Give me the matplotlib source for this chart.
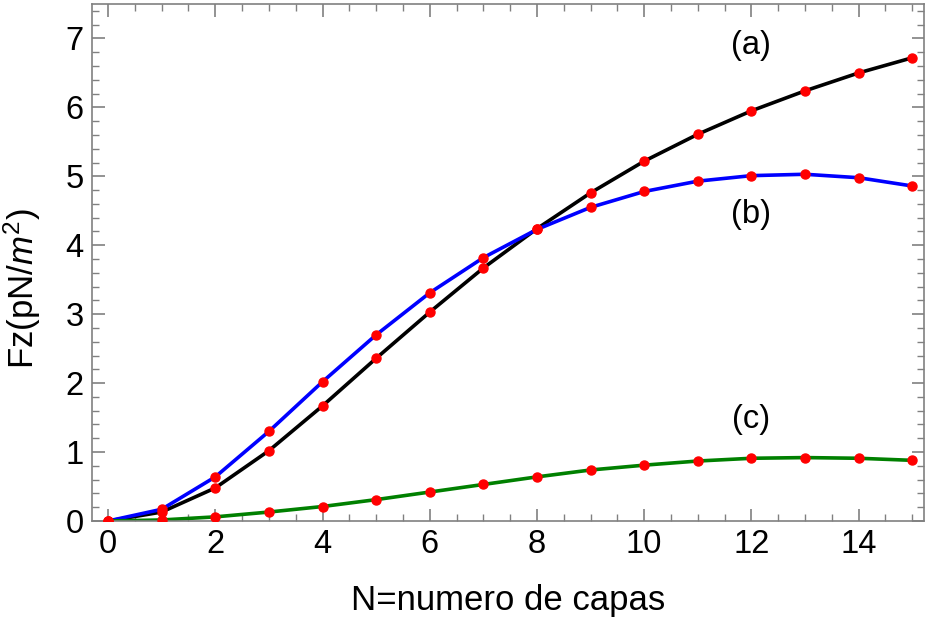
import numpy as np
import matplotlib
matplotlib.use("Agg")
import matplotlib.pyplot as plt
from matplotlib.ticker import MultipleLocator

plt.rcParams['font.family'] = ['Liberation Sans', 'DejaVu Sans']
plt.rcParams['mathtext.fontset'] = 'custom'
plt.rcParams['mathtext.rm'] = 'Liberation Sans'
plt.rcParams['mathtext.it'] = 'Liberation Sans:italic'

# capas
n = list(range(16))
# (a) curva negra
fz_a = [0, 0.13, 0.48, 1.02, 1.67, 2.36, 3.03, 3.67, 4.24, 4.76, 5.22, 5.61, 5.95, 6.24, 6.50, 6.72]
# (b) curva azul
fz_b = [0, 0.17, 0.64, 1.30, 2.02, 2.70, 3.31, 3.82, 4.23, 4.55, 4.78, 4.93, 5.01, 5.03, 4.98, 4.86]
# (c) curva verde
fz_c = [0, 0.015, 0.06, 0.13, 0.21, 0.31, 0.42, 0.53, 0.64, 0.74, 0.81, 0.87, 0.91, 0.92, 0.91, 0.88]

fs = 23.5
fig = plt.figure(figsize=(9.25, 6.21), dpi=100)
ax = fig.add_axes([92/925, 1 - 521/621, (924-92)/925, (521-4)/621])

ax.plot(n, fz_a, color='black', lw=2.6, zorder=2)
ax.plot(n, fz_b, color='blue', lw=2.6, zorder=2)
ax.plot(n, fz_c, color='green', lw=2.6, zorder=2)
for ys in (fz_a, fz_b, fz_c):
    ax.plot(n, ys, 'o', color='red', ms=6.5, zorder=3)

ax.text(12, 6.9, '(a)', fontsize=fs, ha='center', va='center')
ax.text(12, 4.44, '(b)', fontsize=fs, ha='center', va='center')
ax.text(12, 1.47, '(c)', fontsize=fs, ha='center', va='center')

ax.set_xlim(-0.3, 15.22)
ax.set_ylim(0, 7.5)
ax.xaxis.set_major_locator(MultipleLocator(2))
ax.xaxis.set_minor_locator(MultipleLocator(0.5))
ax.yaxis.set_major_locator(MultipleLocator(1))
ax.yaxis.set_minor_locator(MultipleLocator(0.2))

gray = '#808080'
for s in ax.spines.values():
    s.set_color(gray)
    s.set_linewidth(1.2)
ax.tick_params(which='both', direction='in', top=True, right=True, color=gray, labelsize=fs, labelcolor='black')
ax.tick_params(which='major', length=9, width=1.2, pad=6)
ax.tick_params(which='minor', length=5, width=1.0)

ax.set_xlabel('N=numero de capas', fontsize=25)
ax.set_ylabel(r'Fz(pN/$m^2$)', fontsize=25)
ax.xaxis.set_label_coords(0.5, -0.122)
ax.yaxis.set_label_coords(-0.059, 0.45)

fig.savefig('out.png', dpi=100)
